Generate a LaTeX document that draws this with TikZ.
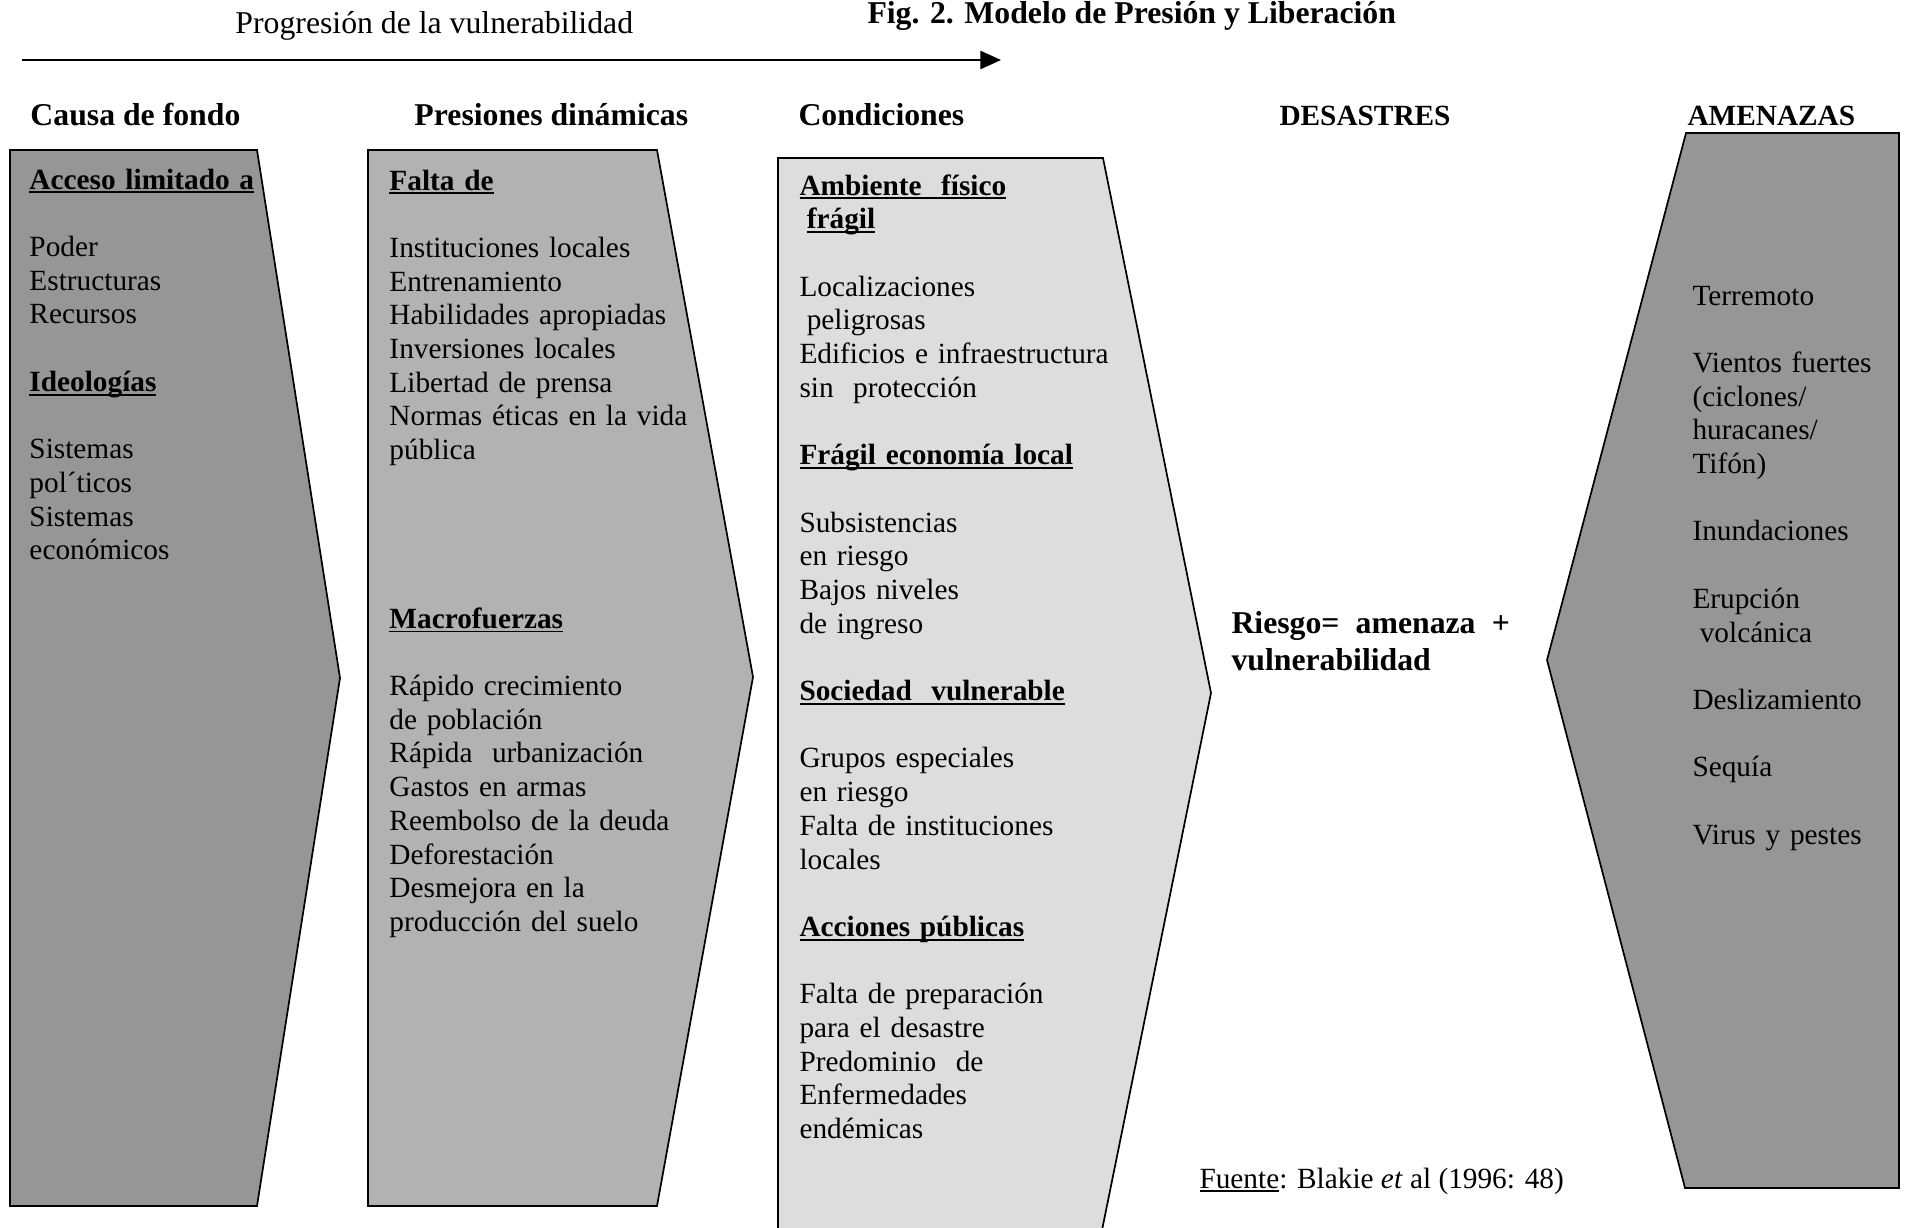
\documentclass[tikz,border=0pt]{standalone}
\usepackage{fontspec}
\setmainfont{Liberation Serif}
\usetikzlibrary{arrows.meta}

\definecolor{darkbox}{RGB}{150,150,150}
\definecolor{midbox}{RGB}{178,178,178}
\definecolor{lightbox}{RGB}{221,221,221}

\newsavebox{\ulbx}
\newcommand{\ultext}[1]{\leavevmode\sbox{\ulbx}{#1}\rlap{\rule[-1.8pt]{\wd\ulbx}{0.8pt}}\usebox{\ulbx}}
\newcommand{\sechead}[1]{\ultext{\textbf{#1}}}

\tikzset{
  chevron/.style={draw=black, line width=0.7pt, line join=miter},
  header/.style={anchor=base west, inner sep=0pt, font=\fontsize{13}{15}\selectfont\bfseries},
  smallheader/.style={header, font=\fontsize{12}{13.8}\selectfont\bfseries},
  boxtext/.style={anchor=base west, inner sep=0pt, text width=160pt, align=left, font=\fontsize{12}{13.8}\selectfont},
}

\begin{document}
\begin{tikzpicture}[x=0.4095pt, y=-0.4095pt]
  \useasboundingbox (0,0) rectangle (1910,1227);

  % Progression arrow and title
  \coordinate (arrstart) at (22,60);
  \coordinate (arrend) at (1001,60);
  \draw[line width=0.8pt, -{Triangle[length=8.5pt,width=7.5pt]}] (arrstart) -- (arrend);
  \node[anchor=base west, inner sep=0pt, font=\fontsize{13}{15}\selectfont] (progtxt) at (235,33) {Progresión de la vulnerabilidad};
  \node[header] (title) at (867,23) {Fig. 2. Modelo de Presión y Liberación};

  % Column headers
  \node[header] (hcausa) at (30,125) {Causa de fondo};
  \node[header] (hpresion) at (414,125) {Presiones dinámicas};
  \node[header] (hcond) at (798,125) {Condiciones};
  \node[smallheader] (hdesastre) at (1279,125) {DESASTRES};
  \node[smallheader] (hamenaza) at (1687,125) {AMENAZAS};

  % Causa de fondo box
  \draw[chevron, fill=darkbox] (10,150) -- (257,150) -- (340,678) -- (257,1206) -- (10,1206) -- cycle;
  \node[boxtext] (causa) at (29,189) {\sechead{Acceso limitado a}\\[\baselineskip]
    Poder\\ Estructuras\\ Recursos\\[\baselineskip]
    \sechead{Ideologías}\\[\baselineskip]
    Sistemas\\ pol´ticos\\ Sistemas\\ económicos};

  % Presiones dinamicas box
  \draw[chevron, fill=midbox] (368,150) -- (657,150) -- (753,677) -- (657,1206) -- (368,1206) -- cycle;
  \node[boxtext] (presion) at (389,190) {\sechead{Falta de}\\[\baselineskip]
    Instituciones locales\\ Entrenamiento\\ Habilidades apropiadas\\ Inversiones locales\\
    Libertad de prensa\\ Normas éticas en la vida\\ pública\\[4\baselineskip]
    \sechead{Macrofuerzas}\\[\baselineskip]
    Rápido crecimiento\\ de población\\ Rápida\ \ urbanización\\ Gastos en armas\\
    Reembolso de la deuda\\ Deforestación\\ Desmejora en la\\ producción del suelo};

  % Condiciones box
  \draw[chevron, fill=lightbox] (778,1240) -- (778,158) -- (1103,158) -- (1211,693) -- (1100,1240);
  \node[boxtext] (cond) at (799,195) {\sechead{Ambiente\ \ físico}\\
    \hspace*{0.25em}\sechead{frágil}\\[\baselineskip]
    Localizaciones\\ \hspace*{0.25em}peligrosas\\ Edificios e infraestructura\\ sin\ \ protección\\[\baselineskip]
    \sechead{Frágil economía local}\\[\baselineskip]
    Subsistencias\\ en riesgo\\ Bajos niveles\\ de ingreso\\[\baselineskip]
    \sechead{Sociedad\ \ vulnerable}\\[\baselineskip]
    Grupos especiales\\ en riesgo\\ Falta de instituciones\\ locales\\[\baselineskip]
    \sechead{Acciones públicas}\\[\baselineskip]
    Falta de preparación\\ para el desastre\\ Predominio\ \ de\\ Enfermedades\\ endémicas};

  % Riesgo formula
  \node[anchor=base west, inner sep=0pt, text width=120pt, align=left, font=\fontsize{13}{15.2}\selectfont\bfseries] (riesgo) at (1231,633)
    {\hbox to 114pt{Riesgo=\hfill amenaza\hfill +}\\ vulnerabilidad};

  % Amenazas box
  \draw[chevron, fill=darkbox] (1686,133) -- (1899,133) -- (1899,1188) -- (1685,1188) -- (1547,660) -- cycle;
  \node[boxtext] (amenaza) at (1692,305) {Terremoto\\[\baselineskip]
    Vientos fuertes\\ (ciclones/\\ huracanes/\\ Tifón)\\[\baselineskip]
    Inundaciones\\[\baselineskip]
    Erupción\\ \hspace*{0.25em}volcánica\\[\baselineskip]
    Deslizamiento\\[\baselineskip]
    Sequía\\[\baselineskip]
    Virus y pestes};

  % Source
  \node[anchor=base west, inner sep=0pt, font=\fontsize{12}{13.8}\selectfont] (fuente) at (1199,1188)
    {\ultext{Fuente}: Blakie \textit{et} al (1996: 48)};
\end{tikzpicture}
\end{document}
